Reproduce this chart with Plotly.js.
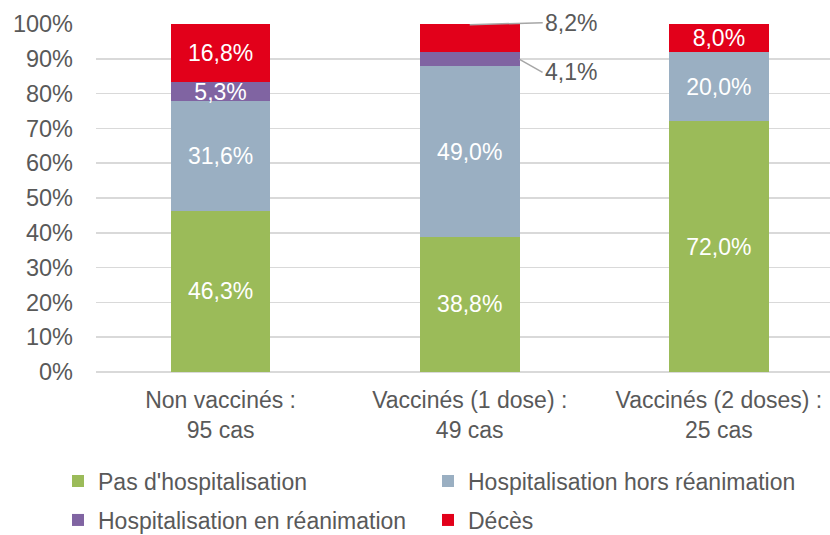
<!DOCTYPE html>
<html>
<head>
<meta charset="utf-8">
<script src="https://cdn.plot.ly/plotly-3.0.1.min.js"></script>
<style>html,body{margin:0;padding:0;background:#fff;}#chart{width:830px;height:535px;}</style>
</head>
<body>
<div id="chart"></div>
<script>
// ---- data ----
const categories = ["Non vaccinés :<br>95 cas", "Vaccinés (1 dose) :<br>49 cas", "Vaccinés (2 doses) :<br>25 cas"];
const seriesNames = ["Pas d'hospitalisation", "Hospitalisation hors réanimation", "Hospitalisation en réanimation", "Décès"];
const pasHosp     = [46.3, 38.8, 72.0];
const horsRea     = [31.6, 49.0, 20.0];
const enRea       = [5.3, 4.1, 0];
const deces       = [16.8, 8.2, 8.0];
// which labels are drawn outside with a leader line (series index, category index)
const outsideLabels = [[2, 1], [3, 1]];

const colors = ["#9BBB59", "#9AAFC2", "#8064A2", "#E2001A"];
const allSeries = [pasHosp, horsRea, enRea, deces];
const FONT = "Liberation Sans, Arial, sans-serif";
const GRAY = "#595959";

function isOutside(s, c) { return outsideLabels.some(p => p[0] === s && p[1] === c); }

const traces = allSeries.map((vals, s) => ({
  type: "bar",
  name: seriesNames[s],
  x: categories.map((_, i) => i),
  y: vals,
  width: 0.4,
  marker: {color: colors[s]},
  texttemplate: vals.map((v, c) => (v > 0 && !isOutside(s, c)) ? "%{y:.1f}%" : ""),
  textposition: "inside",
  insidetextanchor: "middle",
  constraintext: "none",
  textangle: 0,
  textfont: {color: "#ffffff", size: 23, family: FONT},
  hoverinfo: "skip",
  legend: s < 2 ? "legend" : "legend2"
}));

function fmt(v) { return v.toFixed(1).replace(".", ",") + "%"; }

// cumulative positions for the outside labels
const annotations = outsideLabels.map(([s, c]) => {
  let below = 0;
  for (let k = 0; k < s; k++) below += allSeries[k][c];
  const v = allSeries[s][c];
  const isTop = s === allSeries.length - 1;
  return {
    x: isTop ? c : c + 0.2,
    y: isTop ? Math.min(below + v, 99.8) : below + v / 2,
    xref: "x", yref: "y",
    text: fmt(v),
    showarrow: true,
    arrowhead: 0,
    arrowwidth: 1.5,
    arrowcolor: "#A6A6A6",
    axref: "pixel", ayref: "pixel",
    ax: isTop ? 73 : 23,
    ay: isTop ? -2 : 13,
    xanchor: "left",
    yanchor: "middle",
    font: {size: 23, color: GRAY, family: FONT}
  };
});

// legend placement (plot area: left 96px, width 734px, top 24px, height 348px)
const legendCommon = {
  orientation: "h",
  xref: "paper", yref: "paper",
  xanchor: "left", yanchor: "middle",
  x: (58 - 96) / 734,
  entrywidth: 325, entrywidthmode: "pixels",
  font: {size: 23, color: GRAY, family: FONT},
  bgcolor: "rgba(0,0,0,0)",
  traceorder: "normal"
};

const layout = {
  width: 830, height: 535,
  margin: {l: 96, r: 0, t: 24, b: 163, autoexpand: false},
  paper_bgcolor: "#ffffff", plot_bgcolor: "#ffffff",
  barmode: "stack",
  separators: ", ",
  font: {family: FONT, color: GRAY},
  xaxis: {
    type: "linear",
    range: [-0.5, 2.446],
    tickvals: categories.map((_, i) => i),
    ticktext: categories,
    tickfont: {size: 23, color: GRAY, family: FONT},
    showgrid: false, zeroline: false,
    showline: false,
    ticks: "",
    ticklabelstandoff: 12,
    fixedrange: true
  },
  yaxis: {
    range: [0, 100],
    dtick: 10,
    tick0: 0,
    ticksuffix: "%",
    tickfont: {size: 23.5, color: GRAY, family: FONT},
    showgrid: true, gridcolor: "#D9D9D9", gridwidth: 1.5,
    zeroline: true, zerolinecolor: "#D9D9D9", zerolinewidth: 1.5,
    ticks: "",
    ticklabelstandoff: 22,
    fixedrange: true
  },
  legend: Object.assign({}, legendCommon, {y: (372 - 481) / 348}),
  legend2: Object.assign({}, legendCommon, {y: (372 - 520) / 348}),
  annotations: annotations,
  showlegend: true
};

Plotly.newPlot("chart", traces, layout, {displayModeBar: false, staticPlot: true});
</script>
</body>
</html>
